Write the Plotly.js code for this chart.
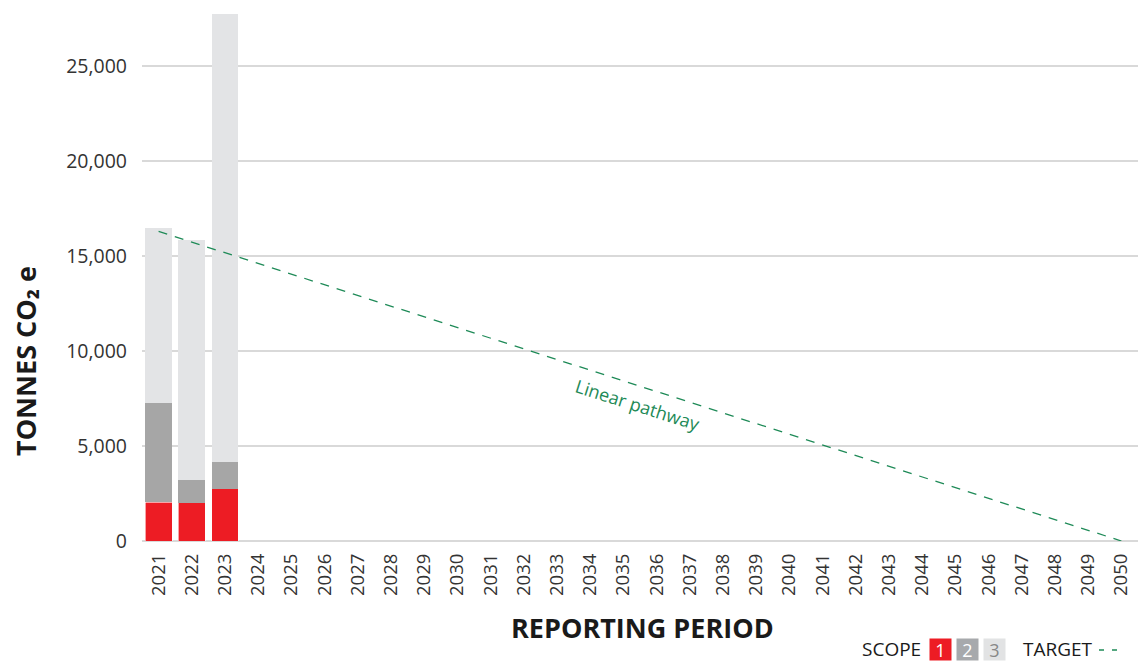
<!DOCTYPE html>
<html><head><meta charset="utf-8">
<script src="https://cdn.plot.ly/plotly-3.0.1.min.js"></script>
<style>html,body{margin:0;padding:0;background:#fff}#c{width:1140px;height:662px}</style>
</head><body><div id="c"></div>
<script>
const years = [2021,2022,2023,2024,2025,2026,2027,2028,2029,2030,2031,2032,2033,2034,2035,2036,2037,2038,2039,2040,2041,2042,2043,2044,2045,2046,2047,2048,2049,2050];
const barYears = [2021, 2022, 2023];
const scope1 = [2050, 2020, 2750];
const scope2 = [5230, 1210, 1410];
const scope3 = [9190, 12610, 23590];
const targetYears = [2021, 2050];
const targetValues = [16300, 0];
const yTicks = [0, 5000, 10000, 15000, 20000, 25000];

const red = '#ed1c24', grey = '#a6a6a6', light = '#e3e4e6', green = '#1e8a57';
const font = '"Open Sans", "Noto Sans", sans-serif';

const L = 142, R = 2, T = 13, B = 121, W = 1140, H = 662;
const pw = W - L - R, ph = H - T - B;
const px = v => (v - L) / pw;          // page pixel -> paper x
const py = v => (H - B - v) / ph;      // page pixel -> paper y

const traces = [
  {type:'bar', x: barYears, y: scope1, marker:{color:red, line:{color:'#fff', width:0.6}}, hoverinfo:'skip', showlegend:false},
  {type:'bar', x: barYears, y: scope2, marker:{color:grey, line:{color:'#fff', width:0}}, hoverinfo:'skip', showlegend:false},
  {type:'bar', x: barYears, y: scope3, marker:{color:light, line:{color:'#fff', width:0}}, hoverinfo:'skip', showlegend:false},
  {type:'scatter', mode:'lines', x: targetYears, y: targetValues, line:{color:green, width:1.3, dash:'9px,8px'}, hoverinfo:'skip', showlegend:false}
];

const layout = {
  width:W, height:H,
  margin:{l:L, r:R, t:T, b:B},
  paper_bgcolor:'#fff', plot_bgcolor:'#fff',
  barmode:'stack', bargap:0.19,
  font:{family:font, color:'#333'},
  xaxis:{
    type:'linear', range:[2020.5, 2050.5], tickmode:'array', tickvals: years, ticktext: years.map(String),
    tickangle:-90, tickfont:{size:18.5, color:'#333'}, showgrid:false, zeroline:false, showline:false, ticks:'',
    ticklabelstandoff:8
  },
  yaxis:{
    range:[0, 27800], tickmode:'array', tickvals: yTicks, ticktext: yTicks.map(v=>v.toLocaleString('en-US')),
    tickfont:{size:19.5, color:'#333'}, showgrid:true, gridcolor:'#d9d9d9', gridwidth:2,
    zeroline:true, zerolinecolor:'#d9d9d9', zerolinewidth:2, showline:false, ticks:'', ticklabelstandoff:14
  },
  annotations:[
    {xref:'paper', yref:'paper', x:px(25), y:py(361), xanchor:'center', yanchor:'middle', textangle:-90,
     text:'<b>TONNES CO₂ e</b>', showarrow:false, font:{size:27, color:'#1a1a1a', family:font}},
    {xref:'paper', yref:'paper', x:px(642), y:py(627), xanchor:'center', yanchor:'middle',
     text:'<b>REPORTING PERIOD</b>', showarrow:false, font:{size:27, color:'#1a1a1a', family:font}},
    {xref:'x', yref:'y', x:2035.45, y:7150, text:'Linear pathway', showarrow:false, textangle:17.7,
     font:{size:18, color:green, family:font}},
    {xref:'paper', yref:'paper', x:px(923), y:py(649), xanchor:'right', yanchor:'middle', text:'SCOPE', showarrow:false,
     font:{size:19, color:'#1a1a1a', family:font}},
    {xref:'paper', yref:'paper', x:px(940), y:py(649), xanchor:'center', yanchor:'middle', text:'1', showarrow:false,
     bgcolor:red, width:17, height:17, borderpad:2, font:{size:18, color:'#fff', family:font}},
    {xref:'paper', yref:'paper', x:px(967), y:py(649), xanchor:'center', yanchor:'middle', text:'2', showarrow:false,
     bgcolor:'#a7a9ac', width:17, height:17, borderpad:2, font:{size:18, color:'#fff', family:font}},
    {xref:'paper', yref:'paper', x:px(994), y:py(649), xanchor:'center', yanchor:'middle', text:'3', showarrow:false,
     bgcolor:'#e2e3e4', width:17, height:17, borderpad:2, font:{size:18, color:'#888', family:font}},
    {xref:'paper', yref:'paper', x:px(1095), y:py(649), xanchor:'right', yanchor:'middle', text:'TARGET', showarrow:false,
     font:{size:19, color:'#1a1a1a', family:font}}
  ],
  shapes:[
    {type:'line', xref:'paper', yref:'paper', x0:px(1099), x1:px(1122), y0:py(650), y1:py(650),
     line:{color:green, width:1.3, dash:'5px,8px'}}
  ]
};

Plotly.newPlot('c', traces, layout, {displayModeBar:false, staticPlot:true});
</script>
</body></html>
